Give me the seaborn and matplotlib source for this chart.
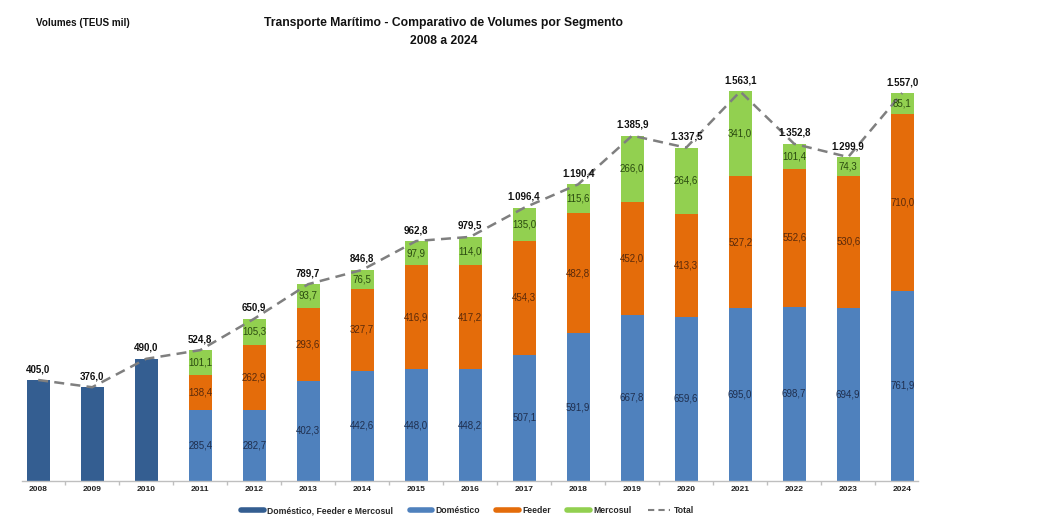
import matplotlib
matplotlib.use("Agg")
import matplotlib.pyplot as plt
import seaborn as sns
import pandas as pd
import numpy as np
from matplotlib.lines import Line2D

years = [str(y) for y in range(2008, 2025)]
combined_years = ["2008", "2009", "2010"]
combined = [405.0, 376.0, 490.0]
seg_years = [str(y) for y in range(2011, 2025)]
domestico = [285.4, 282.7, 402.3, 442.6, 448.0, 448.2, 507.1, 591.9, 667.8, 659.6, 695.0, 698.7, 694.9, 761.9]
feeder = [138.4, 262.9, 293.6, 327.7, 416.9, 417.2, 454.3, 482.8, 452.0, 413.3, 527.2, 552.6, 530.6, 710.0]
mercosul = [101.1, 105.3, 93.7, 76.5, 97.9, 114.0, 135.0, 115.6, 266.0, 264.6, 341.0, 101.4, 74.3, 85.1]
totals = [405.0, 376.0, 490.0, 524.8, 650.9, 789.7, 846.8, 962.8, 979.5, 1096.4, 1190.4,
          1385.9, 1337.5, 1563.1, 1352.8, 1299.9, 1557.0]

C_COMB = "#345E91"
C_DOM = "#4F81BD"
C_FEED = "#E46C0A"
C_MERC = "#92D050"

def fmt(v):
    s = f"{v:,.1f}"
    return s.replace(",", "X").replace(".", ",").replace("X", ".")

sns.set_theme(style="white")
plt.rcParams['font.family'] = ['Liberation Sans', 'DejaVu Sans']

fig = plt.figure(figsize=(10.46, 5.25), dpi=100)
ax = fig.add_axes([0.021, 0.084, 0.857, 0.802])

n0 = len(combined_years)
df_comb = pd.DataFrame({"ano": years, "v": combined + [0.0] * len(seg_years)})
cum_dom = np.array(domestico)
cum_feed = cum_dom + np.array(feeder)
cum_merc = cum_feed + np.array(mercosul)
df_merc = pd.DataFrame({"ano": years, "v": [0.0] * n0 + list(cum_merc)})
df_feed = pd.DataFrame({"ano": years, "v": [0.0] * n0 + list(cum_feed)})
df_dom = pd.DataFrame({"ano": years, "v": [0.0] * n0 + list(cum_dom)})

w = 0.42
for d, c in [(df_comb, C_COMB), (df_merc, C_MERC), (df_feed, C_FEED), (df_dom, C_DOM)]:
    sns.barplot(data=d, x="ano", y="v", order=years, color=c, width=w, ax=ax,
                saturation=1, errorbar=None, linewidth=0)

# total line
ax.plot(np.arange(len(years)), totals, ls=(0, (4, 2.5)), color="#7F7F7F", lw=1.8, zorder=5)

# labels
for i, t in enumerate(totals):
    ax.text(i, t + 24, fmt(t), ha="center", va="bottom", fontsize=7, fontweight="bold", color="#111111", zorder=6)

for j, y in enumerate(seg_years):
    i = years.index(y)
    d, f, m = domestico[j], feeder[j], mercosul[j]
    ax.text(i, d / 2, fmt(d), ha="center", va="center", fontsize=7, color="#1F2F4F", zorder=6)
    ax.text(i, d + f / 2, fmt(f), ha="center", va="center", fontsize=7, color="#5A2A0A", zorder=6)
    ax.text(i, d + f + m / 2, fmt(m), ha="center", va="center", fontsize=7, color="#2A4A10", zorder=6)

ax.set_xlim(-0.3, len(years) - 0.7)
ax.set_ylim(0, 1690)
ax.set_xlabel("")
ax.set_ylabel("")
ax.set_yticks([])
for s in ["top", "right", "left"]:
    ax.spines[s].set_visible(False)
ax.spines["bottom"].set_color("#BFBFBF")
ax.spines["bottom"].set_linewidth(1)
ax.set_xticks(np.arange(len(years)))
ax.set_xticklabels(years, fontsize=6, fontweight="bold", color="#222222")
ax.tick_params(axis="x", length=0, pad=4)
ax.set_xticks(np.arange(len(years) - 1) + 0.5, minor=True)
ax.tick_params(axis="x", which="minor", length=3, color="#BFBFBF", bottom=True)

fig.text(0.034, 0.956, "Volumes (TEUS mil)", fontsize=7.1, fontweight="bold", ha="left", va="center", color="#111111")
fig.text(0.424, 0.956, "Transporte Marítimo - Comparativo de Volumes por Segmento", fontsize=8.7,
         fontweight="bold", ha="center", va="center", color="#111111")
fig.text(0.424, 0.922, "2008 a 2024", fontsize=8.7, fontweight="bold", ha="center", va="center", color="#111111")

handles = [Line2D([0], [0], color=C_COMB, lw=4),
           Line2D([0], [0], color=C_DOM, lw=4),
           Line2D([0], [0], color=C_FEED, lw=4),
           Line2D([0], [0], color=C_MERC, lw=4),
           Line2D([0], [0], color="#7F7F7F", lw=1.5, ls=(0, (3, 2)))]
labels = ["Doméstico, Feeder e Mercosul", "Doméstico", "Feeder", "Mercosul", "Total"]
leg = fig.legend(handles, labels, loc="center", bbox_to_anchor=(0.447, 0.027), ncol=5, frameon=False,
                 prop={"size": 6.2, "weight": "bold"}, handlelength=2.6, columnspacing=1.9, handletextpad=0.4)

fig.savefig("out.png", dpi=100, facecolor="white")
